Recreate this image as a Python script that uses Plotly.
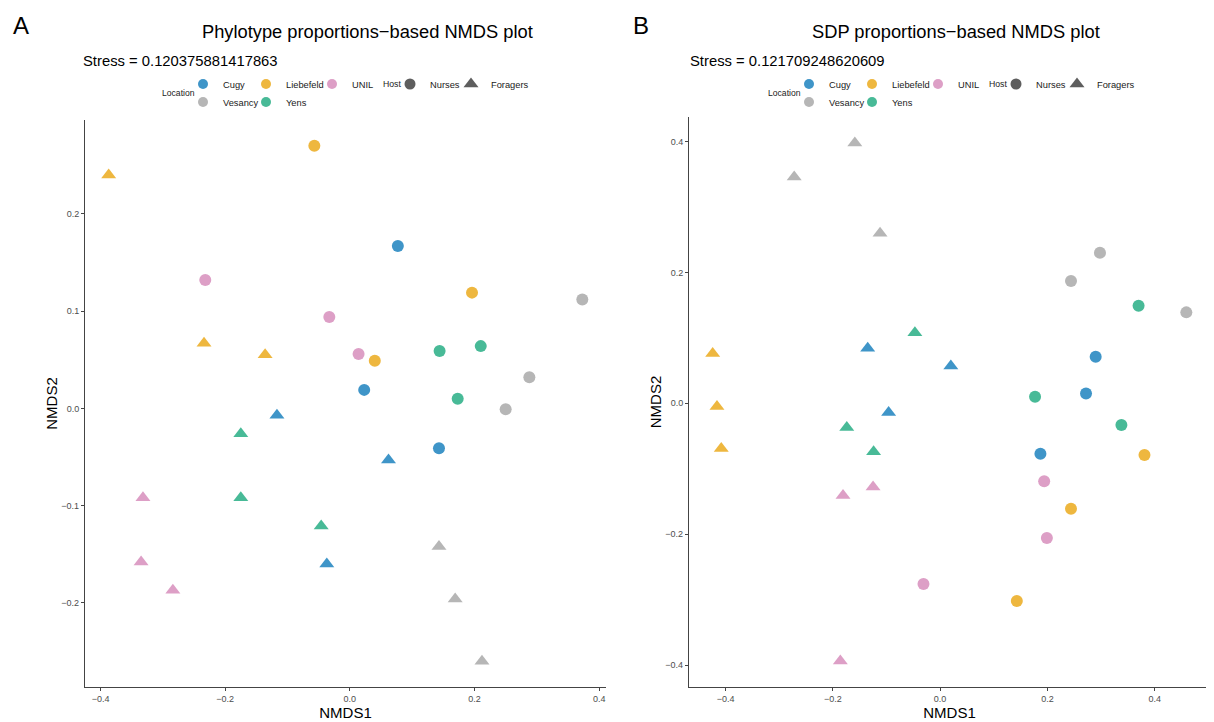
import plotly.graph_objects as go

# ---------------- data ----------------
locations = ["Cugy", "Liebefeld", "UNIL", "Vesancy", "Yens"]
loc_colors = ["#3F95C8", "#EEB73F", "#DD9FC6", "#B6B6B6", "#48BA97"]
hosts = ["Nurses", "Foragers"]
host_symbols = ["circle", "triangle-up"]

# Panel A: phylotype proportions
a_loc = (["Liebefeld"] * 3 + ["Cugy"] * 3 + ["UNIL"] * 3 + ["Vesancy"] * 3 + ["Yens"] * 3) * 2
a_host = ["Nurses"] * 15 + ["Foragers"] * 15
a_x = [-0.057, 0.196, 0.040, 0.077, 0.023, 0.143, -0.232, -0.033, 0.014,
       0.373, 0.288, 0.250, 0.144, 0.210, 0.173,
       -0.387, -0.234, -0.136, -0.117, 0.062, -0.037, -0.332, -0.335, -0.284,
       0.143, 0.169, 0.212, -0.175, -0.175, -0.046]
a_y = [0.270, 0.119, 0.049, 0.167, 0.019, -0.041, 0.132, 0.094, 0.056,
       0.112, 0.032, -0.001, 0.059, 0.064, 0.010,
       0.240, 0.067, 0.055, -0.007, -0.053, -0.160, -0.092, -0.158, -0.187,
       -0.142, -0.196, -0.260, -0.026, -0.092, -0.121]

# Panel B: SDP proportions
b_loc = (["Vesancy"] * 3 + ["Yens"] * 3 + ["Cugy"] * 3 + ["Liebefeld"] * 3 + ["UNIL"] * 3) * 2
b_host = ["Nurses"] * 15 + ["Foragers"] * 15
b_x = [0.298, 0.244, 0.459, 0.370, 0.177, 0.338, 0.290, 0.272, 0.187,
       0.381, 0.244, 0.143, 0.194, 0.199, -0.031,
       -0.159, -0.272, -0.112, -0.047, -0.174, -0.124, -0.135, 0.020, -0.096,
       -0.424, -0.416, -0.408, -0.125, -0.181, -0.186]
b_y = [0.230, 0.187, 0.139, 0.149, 0.010, -0.033, 0.071, 0.015, -0.077,
       -0.079, -0.161, -0.302, -0.119, -0.206, -0.276,
       0.398, 0.346, 0.260, 0.108, -0.037, -0.074, 0.084, 0.057, -0.014,
       0.076, -0.005, -0.069, -0.128, -0.141, -0.394]

titles = ["Phylotype proportions\u2212based NMDS plot", "SDP proportions\u2212based NMDS plot"]
stress = ["Stress = 0.120375881417863", "Stress = 0.121709248620609"]
panel_tags = ["A", "B"]
a_ticks = [-0.2, -0.1, 0.0, 0.1, 0.2]
b_ticks = [-0.4, -0.2, 0.0, 0.2, 0.4]
x_ticks = [-0.4, -0.2, 0.0, 0.2, 0.4]

# ---------------- layout constants ----------------
OFF = 8                      # page body margin of the browser
W, H = 1214 - OFF, 722 - OFF
FONT = "Liberation Sans, Arial, Helvetica, sans-serif"


def px_x(p):
    return (p - OFF) / W


def px_y(p):
    return 1 - (p - OFF) / H


def expand(vals, f=0.05):
    lo, hi = min(vals), max(vals)
    d = (hi - lo) * f
    return [lo - d, hi + d]


fig = go.Figure()

panels = [
    dict(xs=a_x, ys=a_y, loc=a_loc, host=a_host, xa="x", ya="y", left=85, right=606, top=120, bottom=687,
         yticks=a_ticks),
    dict(xs=b_x, ys=b_y, loc=b_loc, host=b_host, xa="x2", ya="y2", left=689, right=1210, top=117, bottom=687,
         yticks=b_ticks),
]

for p in panels:
    for h, sym in zip(hosts, host_symbols):
        for loc, col in zip(locations, loc_colors):
            idx = [i for i in range(len(p["xs"])) if p["loc"][i] == loc and p["host"][i] == h]
            if not idx:
                continue
            fig.add_trace(go.Scatter(
                x=[p["xs"][i] for i in idx], y=[p["ys"][i] for i in idx],
                mode="markers", xaxis=p["xa"], yaxis=p["ya"], showlegend=False,
                marker=dict(color=col, size=12 if sym == "circle" else 13, symbol=sym, line=dict(width=0)),
                name=f"{loc} {h}",
            ))

axis_common = dict(showgrid=False, zeroline=False, showline=True, linecolor="#444444", linewidth=1.1,
                   ticks="outside", ticklen=3, tickwidth=0.8, tickcolor="#444444",
                   tickfont=dict(size=9, color="#4D4D4D", family=FONT), tickformat=".1f",
                   title_font=dict(size=15, color="black", family=FONT))

layout_axes = {}
for k, p in enumerate(panels):
    sfx = "" if k == 0 else "2"
    layout_axes["xaxis" + sfx] = dict(axis_common, domain=[px_x(p["left"]), px_x(p["right"])],
                                      range=expand(p["xs"]), tickvals=x_ticks, anchor="y" + sfx,
                                      title=dict(text="NMDS1", standoff=3))
    layout_axes["yaxis" + sfx] = dict(axis_common, domain=[px_y(p["bottom"]), px_y(p["top"])],
                                      range=expand(p["ys"]), tickvals=p["yticks"], anchor="x" + sfx,
                                      title=dict(text="NMDS2", standoff=0))

# legend entries (legend-only traces); per-entry widths set the column spacing
LEG_FONT = dict(size=9.3, color="#1a1a1a", family=FONT)
legend_defs = {}
row_split = [["Cugy", "Liebefeld", "UNIL"], ["Vesancy", "Yens"]]
entry_w = {"Cugy": 18, "Liebefeld": 21, "UNIL": 25, "Vesancy": 18, "Yens": 25, "Nurses": 16, "Foragers": 40}
panel_shift = [0, 606]
for k in range(2):
    base = 1 + 3 * k
    names = ["legend" if base == 1 else f"legend{base}", f"legend{base + 1}", f"legend{base + 2}"]
    for r, row in enumerate(row_split):
        for loc in row:
            col = loc_colors[locations.index(loc)]
            fig.add_trace(go.Scatter(x=[None], y=[None], mode="markers", name=loc, legend=names[r],
                                     legendwidth=entry_w[loc],
                                     marker=dict(color=col, size=10, symbol="circle"), showlegend=True))
    for h, sym in zip(hosts, host_symbols):
        fig.add_trace(go.Scatter(x=[None], y=[None], mode="markers", name=h, legend=names[2],
                                 legendwidth=entry_w[h],
                                 marker=dict(color="#5E5E5E", size=11 if sym == "circle" else 13, symbol=sym),
                                 showlegend=True))
    s = panel_shift[k]
    for r, yy in enumerate([84, 102]):
        legend_defs[names[r]] = dict(x=px_x(183 + s), xanchor="left", y=px_y(yy), yanchor="middle",
                                     orientation="h", entrywidth=20, itemwidth=30, font=LEG_FONT,
                                     bgcolor="rgba(0,0,0,0)", tracegroupgap=0)
    legend_defs[names[2]] = dict(x=px_x(390 + s), xanchor="left", y=px_y(84), yanchor="middle",
                                 orientation="h", entrywidth=20, itemwidth=30, font=LEG_FONT,
                                 bgcolor="rgba(0,0,0,0)")

annotations = []
for k, p in enumerate(panels):
    s = panel_shift[k]
    annotations.append(dict(text=panel_tags[k], x=px_x([11, 631][k]), y=px_y(25), xref="paper", yref="paper",
                            xanchor="left", yanchor="middle", showarrow=False,
                            font=dict(size=24, color="black", family=FONT)))
    annotations.append(dict(text=titles[k], x=px_x([368, 956][k]), y=px_y(32), xref="paper", yref="paper",
                            xanchor="center", yanchor="middle", showarrow=False,
                            font=dict(size=18.3, color="black", family=FONT)))
    annotations.append(dict(text=stress[k], x=px_x([81, 688][k]), y=px_y(61), xref="paper", yref="paper",
                            xanchor="left", yanchor="middle", showarrow=False,
                            font=dict(size=14.8, color="black", family=FONT)))
    annotations.append(dict(text="Location", x=px_x(178 + s), y=px_y(93), xref="paper", yref="paper",
                            xanchor="center", yanchor="middle", showarrow=False,
                            font=dict(size=8.6, color="#1a1a1a", family=FONT)))
    annotations.append(dict(text="Host", x=px_x(381 + s), y=px_y(84), xref="paper", yref="paper",
                            xanchor="left", yanchor="middle", showarrow=False,
                            font=dict(size=8.7, color="#1a1a1a", family=FONT)))

fig.update_layout(
    width=W, height=H, autosize=False,
    margin=dict(l=0, r=0, t=0, b=0),
    paper_bgcolor="white", plot_bgcolor="white",
    font=dict(family=FONT),
    annotations=annotations,
    **layout_axes,
    **legend_defs,
)

fig.write_html("out.html")
